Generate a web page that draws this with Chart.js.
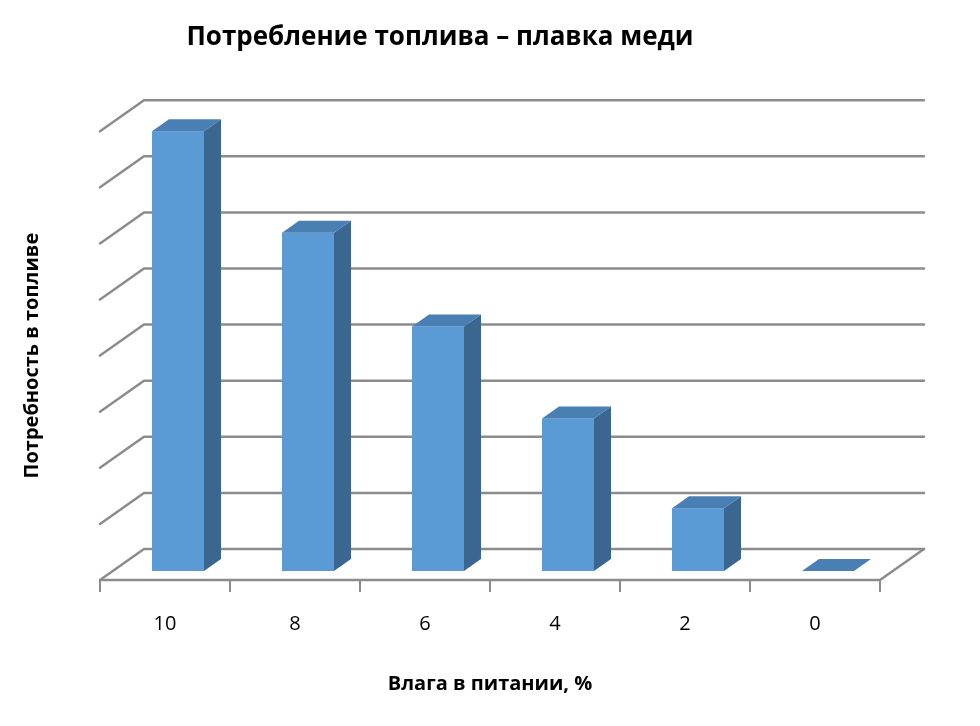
<!DOCTYPE html>
<html><head><meta charset="utf-8">
<script src="https://cdn.jsdelivr.net/npm/chart.js@4"></script>
<style>html,body{margin:0;background:#fff}#w{width:980px;height:726px}</style>
</head><body><div id="w"><canvas id="c"></canvas></div>
<script>
const categories = ['10','8','6','4','2','0'];
const fuelValues = [7.84, 6.03, 4.36, 2.72, 1.12, 0];
const gridCount = 8;

const DX = 44, DY = -31;       // back wall offset
const BX = 13, BY = -9;        // bar front offset
const SX = 17, SY = -12;       // bar depth

const plugin3d = {
  id: 'plugin3d',
  beforeDatasetsDraw(chart) {
    const ctx = chart.ctx, a = chart.chartArea, y = chart.scales.y;
    ctx.save();
    ctx.strokeStyle = '#8c8c8c'; ctx.lineWidth = 2.5; ctx.lineCap = 'round';
    for (let k = 0; k <= gridCount; k++) {
      const py = y.getPixelForValue(k);
      ctx.beginPath();
      ctx.moveTo(a.left, py); ctx.lineTo(a.left + DX, py + DY); ctx.lineTo(a.right + DX, py + DY);
      ctx.stroke();
    }
    ctx.beginPath();
    ctx.moveTo(a.right + DX, a.bottom + DY); ctx.lineTo(a.right, a.bottom); ctx.lineTo(a.left, a.bottom);
    ctx.stroke();
    // bars
    chart.getDatasetMeta(0).data.forEach(el => {
      const w = el.width, x0 = el.x - w / 2 + BX, x1 = el.x + w / 2 + BX;
      const top = el.y + BY, bot = el.base + BY;
      ctx.fillStyle = '#5b9bd5';
      ctx.fillRect(x0, top, w, bot - top);
      ctx.fillStyle = '#3a6690';
      ctx.beginPath(); ctx.moveTo(x1, top); ctx.lineTo(x1 + SX, top + SY); ctx.lineTo(x1 + SX, bot + SY); ctx.lineTo(x1, bot); ctx.closePath(); ctx.fill();
      ctx.fillStyle = '#4a7fb3';
      ctx.beginPath(); ctx.moveTo(x0, top); ctx.lineTo(x0 + SX, top + SY); ctx.lineTo(x1 + SX, top + SY); ctx.lineTo(x1, top); ctx.closePath(); ctx.fill();
    });
    ctx.restore();
  }
};

new Chart(document.getElementById('c'), {
  type: 'bar',
  data: { labels: categories, datasets: [{ data: fuelValues, backgroundColor: 'rgba(0,0,0,0)', barPercentage: 0.4, categoryPercentage: 1 }] },
  options: {
    responsive: true, maintainAspectRatio: false, animation: false,
    layout: { padding: { left: 0, right: 100, top: 0, bottom: 0 } },
    plugins: {
      legend: { display: false }, tooltip: { enabled: false },
      title: { display: true, text: 'Потребление топлива – плавка меди', color: '#000',
        font: { family: 'Open Sans', size: 26, weight: 'bold' }, padding: { top: 22, bottom: 78 } }
    },
    scales: {
      y: { min: 0, max: gridCount, grid: { display: false }, border: { display: false },
        ticks: { display: false },
        title: { display: true, text: 'Потребность в топливе', color: '#000', padding: { top: 20 },
          font: { family: 'Open Sans', size: 20, weight: 'bold' } },
        afterFit(s) { s.width = 100; } },
      x: { offset: true,
        grid: { offset: true, drawOnChartArea: false, tickLength: 12, color: '#8c8c8c', lineWidth: 2 },
        border: { display: false },
        ticks: { color: '#000', padding: 20, font: { family: 'Open Sans', size: 20 } },
        title: { display: true, text: 'Влага в питании, %', color: '#000', padding: { top: 0, bottom: 30 },
          font: { family: 'Open Sans', size: 20, weight: 'bold' } },
        afterFit(s) { s.height = 146; } }
    }
  },
  plugins: [plugin3d]
});
</script></body></html>
